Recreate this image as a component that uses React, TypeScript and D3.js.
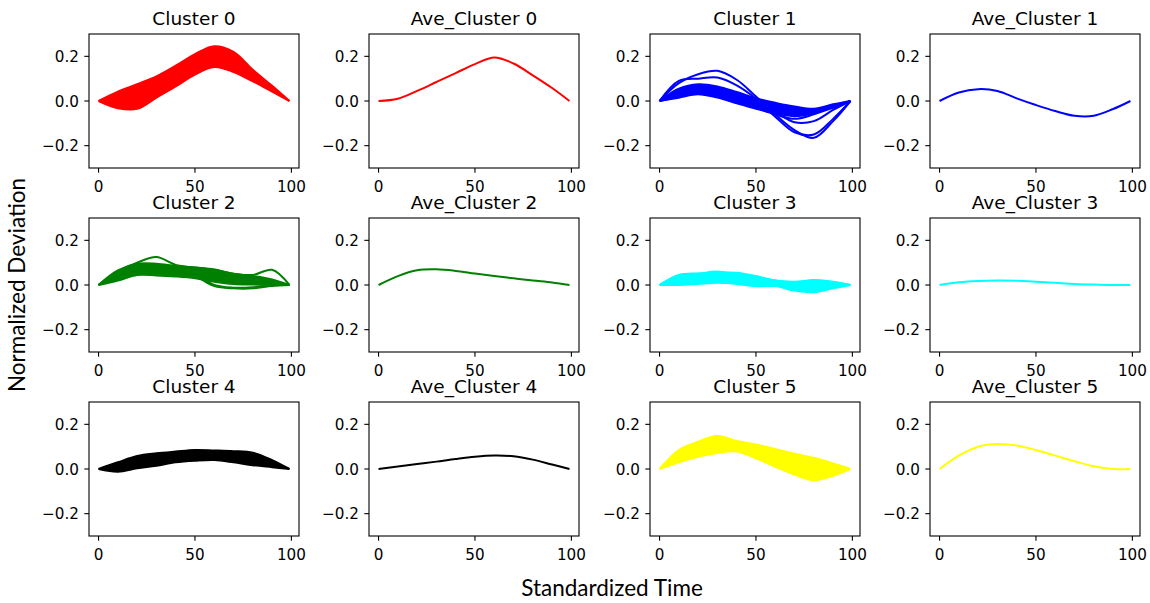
import React from 'react'
import * as d3 from 'd3'

// sample positions along the standardized time axis
const timeSteps = [0, 10, 20, 30, 40, 50, 60, 70, 80, 90, 99];

const xTicks = [0, 50, 100];
const xTickLabels = ['0', '50', '100'];
const yTicks = [-0.2, 0, 0.2];
const yTickLabels = ['\u22120.2', '0.0', '0.2'];

const clusterColors = ['#ff0000', '#0000ff', '#008000', '#00ffff', '#000000', '#ffff00'];

// cluster 0 (red)
const cluster0Upper = [0, 0.042, 0.075, 0.11, 0.158, 0.21, 0.245, 0.22, 0.14, 0.068, 0];
const cluster0Lower = [0, -0.032, -0.035, 0.015, 0.065, 0.118, 0.152, 0.13, 0.088, 0.042, 0];
const cluster0Lines = [];
const aveCluster0 = [0, 0.01, 0.045, 0.085, 0.125, 0.165, 0.195, 0.168, 0.115, 0.058, 0];

// cluster 1 (blue)
const cluster1Upper = [0, 0.055, 0.075, 0.065, 0.04, 0.012, -0.008, -0.025, -0.035, -0.015, 0];
const cluster1Lower = [0, 0.015, 0.03, 0.015, -0.01, -0.035, -0.055, -0.068, -0.055, -0.025, 0];
const cluster1Lines = [
  [0, 0.08, 0.12, 0.135, 0.095, 0.02, -0.06, -0.13, -0.165, -0.09, 0],
  [0, 0.09, 0.1, 0.105, 0.07, 0.01, -0.07, -0.14, -0.15, -0.08, 0],
  [0, 0.05, 0.07, 0.06, 0.03, -0.01, -0.05, -0.095, -0.09, -0.04, 0],
  [0, 0.02, 0.04, 0.03, 0.005, -0.03, -0.06, -0.08, -0.06, -0.03, 0],
];
const aveCluster1 = [0, 0.038, 0.053, 0.045, 0.012, -0.018, -0.045, -0.066, -0.066, -0.036, 0];

// cluster 2 (green)
const cluster2Upper = [0, 0.065, 0.095, 0.095, 0.085, 0.078, 0.07, 0.05, 0.04, 0.025, 0];
const cluster2Lower = [0, 0.02, 0.045, 0.043, 0.038, 0.03, 0.015, 0.005, 0.002, 0, 0];
const cluster2Lines = [
  [0, 0.06, 0.1, 0.125, 0.09, 0.078, 0.068, 0.05, 0.045, 0.068, 0],
  [0, 0.04, 0.07, 0.07, 0.06, 0.04, -0.005, -0.015, -0.015, -0.005, 0],
  [0, 0.05, 0.08, 0.08, 0.065, 0.05, 0, -0.012, -0.01, 0, 0],
];
const aveCluster2 = [0, 0.04, 0.066, 0.07, 0.063, 0.051, 0.04, 0.03, 0.02, 0.011, 0];

// cluster 3 (cyan)
const cluster3Upper = [0, 0.045, 0.052, 0.055, 0.055, 0.04, 0.02, 0.015, 0.022, 0.015, 0];
const cluster3Lower = [0, 0, 0.005, 0.01, 0.005, -0.005, -0.005, -0.025, -0.032, -0.015, 0];
const cluster3Lines = [
  [0, 0.04, 0.05, 0.06, 0.045, 0.035, 0.02, 0.012, 0.02, 0.012, 0],
];
const aveCluster3 = [0, 0.012, 0.018, 0.02, 0.019, 0.015, 0.01, 0.005, 0.002, 0, 0];

// cluster 4 (black)
const cluster4Upper = [0, 0.03, 0.058, 0.07, 0.078, 0.085, 0.083, 0.08, 0.073, 0.04, 0];
const cluster4Lower = [0, -0.012, 0.003, 0.015, 0.03, 0.037, 0.04, 0.03, 0.017, 0.008, 0];
const cluster4Lines = [];
const aveCluster4 = [0, 0.011, 0.022, 0.033, 0.045, 0.055, 0.06, 0.057, 0.042, 0.02, 0];

// cluster 5 (yellow)
const cluster5Upper = [0, 0.085, 0.122, 0.148, 0.125, 0.11, 0.09, 0.068, 0.05, 0.025, 0];
const cluster5Lower = [0, 0.03, 0.055, 0.072, 0.078, 0.048, 0.01, -0.025, -0.05, -0.03, 0];
const cluster5Lines = [];
const aveCluster5 = [0, 0.06, 0.1, 0.112, 0.105, 0.085, 0.06, 0.035, 0.012, 0, 0];

const clusterUppers = [cluster0Upper, cluster1Upper, cluster2Upper, cluster3Upper, cluster4Upper, cluster5Upper];
const clusterLowers = [cluster0Lower, cluster1Lower, cluster2Lower, cluster3Lower, cluster4Lower, cluster5Lower];
const clusterLines = [cluster0Lines, cluster1Lines, cluster2Lines, cluster3Lines, cluster4Lines, cluster5Lines];
const aveClusters = [aveCluster0, aveCluster1, aveCluster2, aveCluster3, aveCluster4, aveCluster5];

const tickFont = 'DejaVu Sans, sans-serif';

function Panel(props) {
  let { left, top, w, h, title, color, upper, lower, lines } = props;

  let x = d3.scaleLinear().domain([-4.95, 103.95]).range([0, w]);
  let y = d3.scaleLinear().domain([-0.3, 0.3]).range([h, 0]);

  let line = d3.line()
    .x(function(d, i) { return x(timeSteps[i]); })
    .y(function(d) { return y(d); })
    .curve(d3.curveCatmullRom.alpha(0.5));

  let area = d3.area()
    .x(function(d, i) { return x(timeSteps[i]); })
    .y0(function(d, i) { return y(lower[i]); })
    .y1(function(d) { return y(d); })
    .curve(d3.curveCatmullRom.alpha(0.5));

  return (
    <g transform={'translate(' + left + ',' + top + ')'}>
      <text x={w / 2} y={-9} textAnchor="middle" fontFamily={tickFont} fontSize={18.5}>{title}</text>
      <svg x={0} y={0} width={w} height={h} overflow="hidden">
        {upper && (
          <g>
            <path d={area(upper)} fill={color} stroke="none"/>
            <path d={line(upper)} fill="none" stroke={color} strokeWidth={2}/>
            <path d={line(lower)} fill="none" stroke={color} strokeWidth={2}/>
          </g>
        )}
        {lines.map(function(vals, i) {
          return <path key={i} d={line(vals)} fill="none" stroke={color} strokeWidth={2} strokeLinejoin="round"/>
        })}
      </svg>
      <rect x={0} y={0} width={w} height={h} fill="none" stroke="#000" strokeWidth={1.1}/>
      {xTicks.map(function(t, i) {
        return (
          <g key={'x' + t} transform={'translate(' + x(t) + ',' + h + ')'}>
            <line y1={0} y2={4.7} stroke="#000" strokeWidth={1.1}/>
            <text y={23.5} textAnchor="middle" fontFamily={tickFont} fontSize={15.2}>{xTickLabels[i]}</text>
          </g>
        );
      })}
      {yTicks.map(function(t, i) {
        return (
          <g key={'y' + t} transform={'translate(0,' + y(t) + ')'}>
            <line x1={0} x2={-4.7} stroke="#000" strokeWidth={1.1}/>
            <text x={-10} y={5.5} textAnchor="end" fontFamily={tickFont} fontSize={15.2}>{yTickLabels[i]}</text>
          </g>
        );
      })}
    </g>
  );
}

export default function App() {
  let width = 1150, height = 603;
  let colLeft = [89, 369, 650, 930];
  let rowTop = [34, 218, 402];
  let w = 210, h = 134;

  let panels = [];
  for (let c = 0; c < 6; c++) {
    let row = Math.floor(c / 2);
    let col = (c % 2) * 2;
    panels.push(
      <Panel key={'c' + c} left={colLeft[col]} top={rowTop[row]} w={w} h={h}
        title={'Cluster ' + c} color={clusterColors[c]}
        upper={clusterUppers[c]} lower={clusterLowers[c]} lines={clusterLines[c]}/>
    );
    panels.push(
      <Panel key={'a' + c} left={colLeft[col + 1]} top={rowTop[row]} w={w} h={h}
        title={'Ave_Cluster ' + c} color={clusterColors[c]}
        upper={null} lower={null} lines={[aveClusters[c]]}/>
    );
  }

  return (
    <svg width={width} height={height} style={{ position: 'absolute', left: 0, top: 0, background: '#fff' }}>
      <rect width={width} height={height} fill="#fff"/>
      {panels}
      <text transform="translate(25,285) rotate(-90)" textAnchor="middle" fontFamily="Lato, sans-serif" fontSize={22.5}>Normalized Deviation</text>
      <text x={612} y={596} textAnchor="middle" fontFamily="Lato, sans-serif" fontSize={22.5}>Standardized Time</text>
    </svg>
  );
}
